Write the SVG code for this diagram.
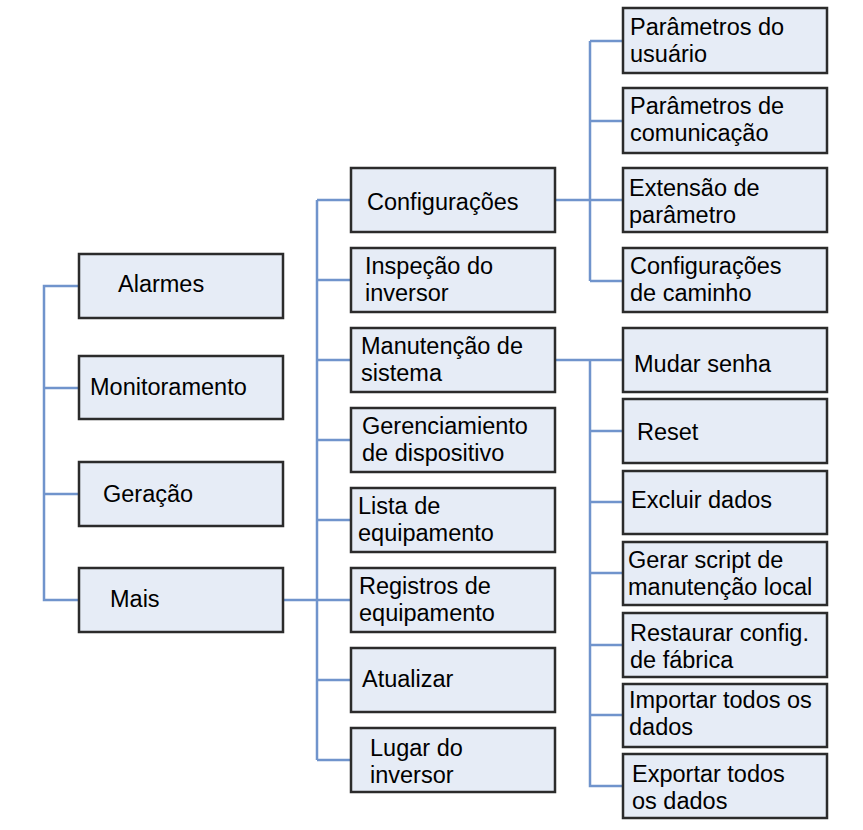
<svg xmlns="http://www.w3.org/2000/svg" width="863" height="830" viewBox="0 0 863 830">
<style>
.b{fill:#e6ecf6;stroke:#2b2b2b;stroke-width:2.5}
.t{font-family:"Liberation Sans",Arial,sans-serif;font-size:23.5px;fill:#000}
.c{fill:none;stroke:#7094cc;stroke-width:2.5}
</style>
<rect width="863" height="830" fill="#fff"/>
<g id="connectors">
<path class="c" d="M79 286H44V600H79M44 388H79M44 494H79"/>
<path class="c" d="M283 600H351M317 200V760M317 200H351M317 280H351M317 360H351M317 440H351M317 520H351M317 680H351M317 760H351"/>
<path class="c" d="M555 200H590M590 41V281M590 41H623M590 121H623M590 200H623M590 281H623"/>
<path class="c" d="M555 360H623M590 360V786H623M590 431H623M590 502H623M590 573H623M590 645H623M590 715H623"/>
</g>
<g id="alarmes"><rect class="b" x="79" y="254" width="204" height="64"/><text class="t" x="118" y="292">Alarmes</text></g>
<g id="monitoramento"><rect class="b" x="79" y="356" width="204" height="63"/><text class="t" x="90" y="395">Monitoramento</text></g>
<g id="geracao"><rect class="b" x="79" y="462" width="204" height="64"/><text class="t" x="103" y="502">Geração</text></g>
<g id="mais"><rect class="b" x="79" y="568" width="204" height="64"/><text class="t" x="110" y="607">Mais</text></g>

<g id="configuracoes"><rect class="b" x="351" y="168" width="204" height="64"/><text class="t" x="367" y="210">Configurações</text></g>
<g id="inspecao"><rect class="b" x="351" y="248" width="204" height="64"/><text class="t" x="365" y="274">Inspeção do</text><text class="t" x="365" y="301">inversor</text></g>
<g id="manutencao"><rect class="b" x="351" y="328" width="204" height="64"/><text class="t" x="361" y="354">Manutenção de</text><text class="t" x="361" y="381">sistema</text></g>
<g id="gerenciamiento"><rect class="b" x="351" y="408" width="204" height="64"/><text class="t" x="362" y="434">Gerenciamiento</text><text class="t" x="362" y="461">de dispositivo</text></g>
<g id="lista"><rect class="b" x="351" y="488" width="204" height="64"/><text class="t" x="358" y="514">Lista de</text><text class="t" x="358" y="541">equipamento</text></g>
<g id="registros"><rect class="b" x="351" y="568" width="204" height="64"/><text class="t" x="359" y="594">Registros de</text><text class="t" x="359" y="621">equipamento</text></g>
<g id="atualizar"><rect class="b" x="351" y="648" width="204" height="64"/><text class="t" x="362" y="687">Atualizar</text></g>
<g id="lugar"><rect class="b" x="351" y="728" width="204" height="64"/><text class="t" x="370" y="756">Lugar do</text><text class="t" x="370" y="783">inversor</text></g>

<g id="param-usuario"><rect class="b" x="623" y="8" width="204" height="65"/><text class="t" x="630" y="35">Parâmetros do</text><text class="t" x="630" y="62">usuário</text></g>
<g id="param-comunicacao"><rect class="b" x="623" y="88" width="204" height="65"/><text class="t" x="630" y="114">Parâmetros de</text><text class="t" x="630" y="141">comunicação</text></g>
<g id="extensao"><rect class="b" x="623" y="168" width="204" height="64"/><text class="t" x="629" y="196">Extensão de</text><text class="t" x="629" y="223">parâmetro</text></g>
<g id="config-caminho"><rect class="b" x="623" y="248" width="204" height="64"/><text class="t" x="630" y="274">Configurações</text><text class="t" x="630" y="301">de caminho</text></g>

<g id="mudar-senha"><rect class="b" x="623" y="328" width="204" height="64"/><text class="t" x="634" y="372">Mudar senha</text></g>
<g id="reset"><rect class="b" x="623" y="399" width="204" height="64"/><text class="t" x="637" y="440">Reset</text></g>
<g id="excluir"><rect class="b" x="623" y="471" width="204" height="63"/><text class="t" x="631" y="508">Excluir dados</text></g>
<g id="gerar"><rect class="b" x="623" y="542" width="204" height="63"/><text class="t" x="628" y="568">Gerar script de</text><text class="t" x="628" y="595">manutenção local</text></g>
<g id="restaurar"><rect class="b" x="623" y="613" width="204" height="64"/><text class="t" x="630" y="641">Restaurar config.</text><text class="t" x="630" y="668">de fábrica</text></g>
<g id="importar"><rect class="b" x="623" y="684" width="204" height="63"/><text class="t" x="629" y="708">Importar todos os</text><text class="t" x="629" y="735">dados</text></g>
<g id="exportar"><rect class="b" x="623" y="754" width="204" height="64"/><text class="t" x="632" y="782">Exportar todos</text><text class="t" x="632" y="809">os dados</text></g>
</svg>
